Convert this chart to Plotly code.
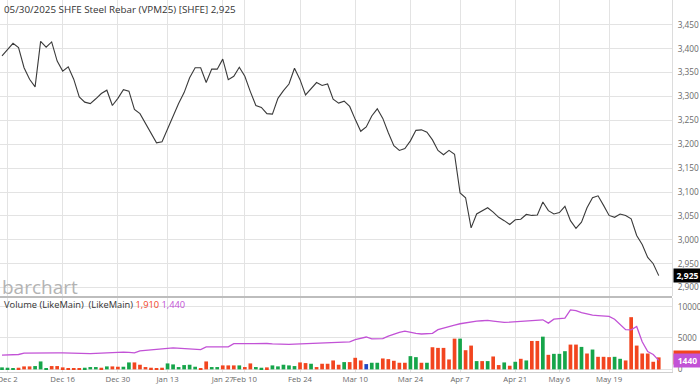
import pandas as pd
import plotly.graph_objects as go

# ---------------- data ----------------
holidays = ["2025-01-01", "2025-01-28", "2025-01-29", "2025-01-30", "2025-01-31",
            "2025-02-03", "2025-02-04", "2025-04-04", "2025-05-01", "2025-05-02", "2025-05-05"]
dates = [d.strftime("%Y-%m-%d") for d in pd.bdate_range("2024-11-29", "2025-05-30")
         if d.strftime("%Y-%m-%d") not in holidays]

prices = [3385, 3398, 3411, 3402, 3360, 3336, 3320, 3415, 3403, 3414,
          3374, 3353, 3362, 3336, 3299, 3288, 3285, 3295, 3306, 3313,
          3281, 3296, 3314, 3311, 3273, 3264, 3244, 3223, 3203, 3205,
          3232, 3262, 3285, 3308, 3339, 3360, 3360, 3329, 3357, 3357,
          3378, 3335, 3342, 3361, 3342, 3310, 3281, 3277, 3264, 3263,
          3296, 3312, 3326, 3359, 3335, 3303, 3315, 3329, 3323, 3326,
          3294, 3286, 3290, 3279, 3252, 3227, 3236, 3259, 3274, 3254,
          3224, 3197, 3187, 3191, 3207, 3229, 3230, 3225, 3209, 3187,
          3178, 3187, 3179, 3098, 3088, 3025, 3054, 3061, 3067, 3058,
          3047, 3040, 3032, 3042, 3043, 3053, 3051, 3052, 3079, 3061,
          3054, 3057, 3070, 3040, 3024, 3037, 3067, 3088, 3092, 3072,
          3051, 3047, 3054, 3051, 3044, 3009, 2990, 2963, 2950, 2925]

volumes = [316, 263, 158, 263, 474, 474, 527, 1264, 200, 527,
           527, 316, 210, 210, 210, 263, 369, 369, 263, 474,
           474, 421, 421, 1106, 1106, 737, 369, 263, 210, 263,
           948, 790, 369, 685, 737, 421, 158, 1264, 369, 369,
           632, 632, 632, 632, 369, 948, 369, 263, 316, 632,
           474, 737, 632, 527, 1106, 1000, 895, 369, 895, 895,
           1422, 737, 1159, 1159, 1843, 1422, 843, 1053, 1053, 1738,
           1633, 1369, 1053, 1053, 2107, 1949, 1053, 1053, 3529, 3423,
           3423, 1580, 4898, 4898, 3055, 3792, 1317, 1317, 1317, 2054,
           685, 1106, 580, 1211, 1685, 1422, 4530, 4530, 5214, 2317,
           2475, 2475, 2897, 3950, 3950, 3581, 2528, 3160, 2001, 2001,
           1949, 2001, 1685, 1422, 8321, 3792, 2528, 2528, 1211, 1910]

# volume direction: + up, - down, = unchanged
vol_dir = ["+", "+", "+", "-", "-", "-", "+", "+", "+", "-",
           "-", "-", "-", "-", "-", "+", "+", "+", "-", "+",
           "-", "-", "+", "+", "-", "-", "-", "-", "-", "-",
           "+", "+", "+", "+", "+", "+", "-", "-", "+", "+",
           "-", "-", "-", "+", "-", "-", "+", "+", "-", "+",
           "+", "+", "+", "+", "-", "-", "+", "-", "-", "-",
           "-", "-", "+", "-", "-", "-", "=", "+", "+", "-",
           "-", "-", "-", "-", "+", "+", "-", "+", "-", "-",
           "-", "-", "-", "+", "-", "-", "+", "-", "+", "-",
           "-", "+", "-", "+", "-", "+", "-", "-", "+", "-",
           "+", "+", "+", "-", "-", "+", "-", "+", "-", "-",
           "-", "+", "+", "-", "-", "-", "-", "-", "-", "-"]

vol_avg = [2265, 2300, 2330, 2370, 2600, 2620, 2633, 2640, 2640, 2630,
           2640, 2620, 2580, 2540, 2500, 2475, 2500, 2540, 2590, 2633,
           2700, 2790, 2760, 2700, 2640, 2950, 3050, 3100, 3160, 3250,
           3350, 3420, 3360, 3300, 3265, 3200, 3160, 3580, 3580, 3580,
           3580, 3600, 4100, 4110, 4120, 4130, 4150, 4160, 4120, 4050,
           3990, 3950, 3980, 4020, 4055, 4040, 4030, 4055, 4100, 4200,
           4266, 4300, 4330, 4370, 4740, 5000, 5160, 4850, 4870, 4900,
           5300, 5640, 5900, 6100, 5900, 5750, 5640, 5680, 5740, 6320,
           6600, 6850, 7050, 7270, 7450, 7640, 7700, 7750, 7800, 7700,
           7600, 7480, 7520, 7580, 7650, 7720, 7800, 7850, 7900, 7370,
           8000, 8080, 8160, 9480, 9380, 9050, 8800, 8650, 8580, 8550,
           8450, 8000, 7200, 6320, 6300, 6840, 4400, 2850, 2370, 1440]

tick_dates = ["2024-12-02", "2024-12-16", "2024-12-30", "2025-01-13", "2025-01-27",
              "2025-02-10", "2025-02-24", "2025-03-10", "2025-03-24", "2025-04-07",
              "2025-04-21", "2025-05-06", "2025-05-19"]
tick_labels = ["Dec 2", "Dec 16", "Dec 30", "Jan 13", "Jan 27", "Feb 10", "Feb 24",
               "Mar 10", "Mar 24", "Apr 7", "Apr 21", "May 6", "May 19"]

price_ticks = [2900, 2950, 3000, 3050, 3100, 3150, 3200, 3250, 3300, 3350, 3400, 3450, 3500]
vol_ticks = [0, 5000, 10000]

title_text = "05/30/2025 SHFE Steel Rebar (VPM25) [SHFE] 2,925"
last_price = prices[-1]
last_vol = volumes[-1]
last_avg = vol_avg[-1]

# ---------------- styling ----------------
FONT = "Open Sans"
RED = "#f2451f"
GREEN = "#16a54a"
BLUE = "#2148c4"
PURPLE = "#c252d6"
GRID = "#e3e3e3"
dir_color = {"+": GREEN, "-": RED, "=": BLUE}
bar_colors = [dir_color[d] for d in vol_dir]

fig = go.Figure()
fig.add_trace(go.Scatter(x=dates, y=prices, mode="lines",
                         line=dict(color="#3a3a3a", width=1.1),
                         xaxis="x", yaxis="y", hoverinfo="skip"))
fig.add_trace(go.Bar(x=dates, y=volumes, marker=dict(color=bar_colors, line=dict(width=0)),
                     xaxis="x2", yaxis="y2", hoverinfo="skip"))
fig.add_trace(go.Scatter(x=dates, y=vol_avg, mode="lines",
                         line=dict(color=PURPLE, width=1.3),
                         xaxis="x2", yaxis="y2", hoverinfo="skip"))

n = len(dates)
xr = [-0.36, n + 1.4]
ytick_font = dict(family=FONT, size=8.3, color="#6a6a6a")
xtick_font = dict(family=FONT, size=7.8, color="#6a6a6a")

fig.update_layout(
    width=700, height=389,
    margin=dict(l=0, r=28, t=0, b=17, autoexpand=False),
    paper_bgcolor="white", plot_bgcolor="white",
    showlegend=False, bargap=0.33,
    font=dict(family=FONT),
    xaxis=dict(type="category", domain=[0, 1], anchor="y", range=xr, automargin=False,
               tickvals=tick_dates, ticktext=tick_labels, showticklabels=False,
               showgrid=True, gridcolor=GRID, gridwidth=1, zeroline=False,
               categoryorder="array", categoryarray=dates, matches="x2"),
    xaxis2=dict(type="category", domain=[0, 1], anchor="y2", range=xr, automargin=False,
                tickvals=tick_dates, ticktext=tick_labels, tickfont=xtick_font, tickangle=0,
                showgrid=True, gridcolor=GRID, gridwidth=1, zeroline=False,
                showline=True, linecolor="#cfcfcf", linewidth=1,
                ticks="", categoryorder="array", categoryarray=dates),
    yaxis=dict(domain=[0.2043, 1], anchor="x", side="right", range=[2882.4, 3501.7],
               automargin=False,
               tickvals=price_ticks, tickformat=",d", tickfont=ytick_font,
               showgrid=True, gridcolor=GRID, gridwidth=1, zeroline=False,
               showline=True, linecolor="#dcdcdc", linewidth=1,
               ticks="outside", ticklen=3, tickcolor="rgba(0,0,0,0)"),
    yaxis2=dict(domain=[0, 0.1989], anchor="x2", side="right", range=[-420, 11375],
                automargin=False,
                tickvals=vol_ticks, tickformat="d", tickfont=ytick_font,
                showgrid=True, gridcolor=GRID, gridwidth=1, zeroline=False,
                showline=True, linecolor="#dcdcdc", linewidth=1,
                ticks="outside", ticklen=3, tickcolor="rgba(0,0,0,0)"),
)

# separator between panels
fig.add_shape(type="line", xref="paper", yref="paper", x0=0, x1=1,
              y0=0.2016, y1=0.2016, line=dict(color="#bdbdbd", width=2))

# title
fig.add_annotation(xref="paper", yref="paper", x=0.003, y=1, xanchor="left", yanchor="top",
                   yshift=-1, showarrow=False, text=title_text,
                   font=dict(family=FONT, size=9.8, color="#333333"))
# watermark
fig.add_annotation(xref="paper", yref="paper", x=0.0, y=0.2285, xanchor="left", yanchor="middle",
                   showarrow=False, text="barchart",
                   font=dict(family=FONT, size=19, color="#b3b3b3"))
# volume label
fig.add_annotation(xref="paper", yref="paper", x=0.003, y=0.181, xanchor="left", yanchor="middle",
                   showarrow=False,
                   text=("Volume (LikeMain)  (LikeMain) "
                         f"<span style='color:{RED}'>{last_vol:,}</span> "
                         f"<span style='color:{PURPLE}'>{last_avg:,}</span>"),
                   font=dict(family=FONT, size=9.3, color="#333333"))
# last price box
fig.add_annotation(xref="paper", yref="y", x=1, y=last_price, xanchor="left", yanchor="middle",
                   xshift=1, showarrow=False, text=f"<b>{last_price:,}</b>",
                   bgcolor="black", width=25, borderpad=1,
                   font=dict(family=FONT, size=8.5, color="white"))
# last volume boxes
fig.add_annotation(xref="paper", yref="y2", x=1, y=last_vol, xanchor="left", yanchor="middle",
                   xshift=1, showarrow=False, text=f"<b>{last_vol}</b>",
                   bgcolor=RED, width=25, borderpad=1,
                   font=dict(family=FONT, size=8.5, color="white"))
fig.add_annotation(xref="paper", yref="y2", x=1, y=last_avg, xanchor="left", yanchor="middle",
                   xshift=1, showarrow=False, text=f"<b>{last_avg}</b>",
                   bgcolor=PURPLE, width=25, borderpad=1,
                   font=dict(family=FONT, size=8.5, color="white"))

fig.write_html("out.html", config={"displayModeBar": False},
               post_script="document.body.style.margin='0';document.body.style.padding='0';")
